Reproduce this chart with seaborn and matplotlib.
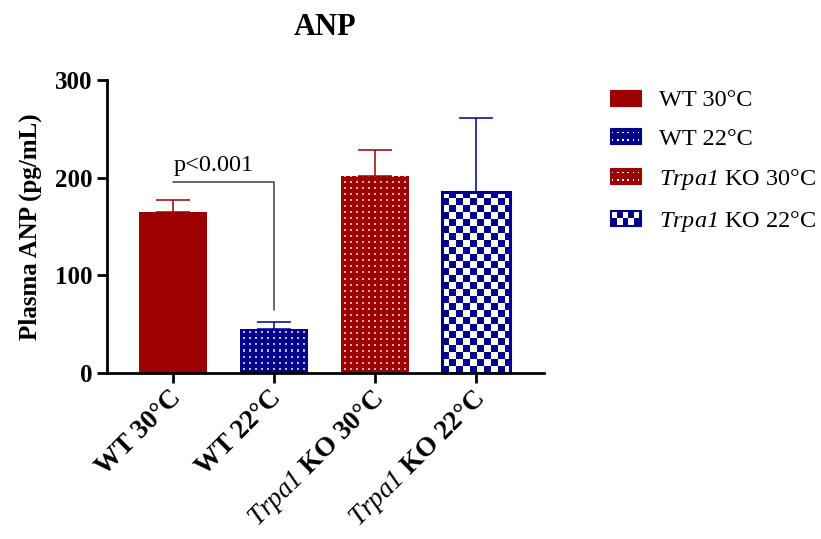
import numpy as np
import pandas as pd
import matplotlib
matplotlib.use('Agg')
import matplotlib.pyplot as plt
import seaborn as sns
from matplotlib.colors import ListedColormap
from matplotlib.legend_handler import HandlerBase
from matplotlib.patches import Patch, Rectangle
from matplotlib.transforms import ScaledTranslation

# Data (mean + upper SEM)
groups = ['WT 30°C', 'WT 22°C', 'Trpa1 KO 30°C', 'Trpa1 KO 22°C']
tick_labels = ['WT 30°C', 'WT 22°C',
               r'$\mathsf{Trpa1}$ KO 30°C', r'$\mathsf{Trpa1}$ KO 22°C']
anp_mean = [165, 44.5, 202, 185]
anp_err = [12, 7.5, 26, 76]
bar_colors = ['#9c0000', '#00008b', '#9c0000', '#00008b']
dot_colors = ['#ffffff', '#b8b8e0', '#e8a8a8', '#ffffff']
bar_fill = ['solid', 'dots', 'fine_dots', 'checker']
p_text = 'p<0.001'
bracket_top = 195
bracket_bottom = 64

sns.set_style('ticks')
plt.rcParams['font.family'] = ['Liberation Serif', 'DejaVu Serif']
plt.rcParams['mathtext.fontset'] = 'custom'
plt.rcParams['mathtext.sf'] = 'Liberation Serif:italic'
plt.rcParams['mathtext.it'] = 'Liberation Serif:italic'
plt.rcParams['mathtext.rm'] = 'Liberation Serif'
plt.rcParams['mathtext.bf'] = 'Liberation Serif:bold'
for key in ('text.color', 'axes.labelcolor', 'xtick.color', 'ytick.color'):
    plt.rcParams[key] = 'black'


def pattern(kind, h, w):
    yy, xx = np.mgrid[0:h, 0:w]
    if kind in ('dots', 'fine_dots'):
        return (((yy + 3) % 6 < 2) & ((xx + 3) % 6 < 2)).astype(float)
    return ((yy // 7 + xx // 7) % 2).astype(float)


class SwatchHandler(HandlerBase):
    def __init__(self, color, kind):
        super().__init__()
        self.color = color
        self.kind = kind

    def create_artists(self, legend, orig_handle, xdescent, ydescent,
                       width, height, fontsize, trans):
        x0, y0 = -xdescent, -ydescent
        arts = [Rectangle((x0, y0), width, height, facecolor=self.color,
                          edgecolor=self.color, lw=0.8, transform=trans)]
        if self.kind in ('dots', 'fine_dots'):
            nx = 6
            for i in range(nx):
                for j in range(2):
                    cx = x0 + (i + 0.5) * width / nx
                    cy = y0 + (j + 0.5) * height / 2
                    arts.append(Rectangle((cx - 0.6, cy - 0.6), 1.2, 1.2,
                                          facecolor='white', lw=0, transform=trans))
        elif self.kind == 'checker':
            nx, ny = 5, 2
            pad = 1.2
            cw = (width - 2 * pad) / nx
            ch = (height - 2 * pad) / ny
            for i in range(nx):
                for j in range(ny):
                    if (i + j) % 2 == 1:
                        arts.append(Rectangle((x0 + pad + i * cw, y0 + pad + j * ch), cw, ch,
                                              facecolor='white', lw=0, transform=trans))
        return arts


df = pd.DataFrame({'group': groups, 'anp': anp_mean})

fig = plt.figure(figsize=(8.21, 5.39), dpi=100)
ax = fig.add_axes([0.130, 0.308, 0.533, 0.544])
sns.barplot(data=df, x='group', y='anp', hue='group', palette=bar_colors,
            saturation=1, width=0.67, errorbar=None, legend=False, ax=ax)

xlim = (-0.66, 3.68)
ylim = (0, 300)
ax.set_xlim(*xlim)
ax.set_ylim(*ylim)

# textures for the patterned bars
for patch, kind, color, dcol in zip(ax.patches, bar_fill, bar_colors, dot_colors):
    patch.set_linewidth(0)
    if kind == 'solid':
        continue
    bx, bw, bh = patch.get_x(), patch.get_width(), patch.get_height()
    px0, py0 = ax.transData.transform((bx, 0))
    px1, py1 = ax.transData.transform((bx + bw, bh))
    w, h = int(round(px1 - px0)), int(round(py1 - py0))
    img = ax.imshow(pattern(kind, h, w), cmap=ListedColormap([color, dcol]),
                    vmin=0, vmax=1, origin='lower', extent=(bx, bx + bw, 0, bh),
                    aspect='auto', interpolation='nearest',
                    zorder=patch.get_zorder() + 0.1)
    img.set_clip_path(patch)
    if kind == 'checker':
        patch.set_facecolor('none')
        patch.set_edgecolor(color)
        patch.set_linewidth(2.2)
        patch.set_zorder(patch.get_zorder() + 0.2)

ax.set_xlim(*xlim)
ax.set_ylim(*ylim)

# upper error bars only
centers = [p.get_x() + p.get_width() / 2 for p in ax.patches]
for cx, m, e, c in zip(centers, anp_mean, anp_err, bar_colors):
    ax.errorbar(cx, m, yerr=[[0], [e]], fmt='none', ecolor=c,
                elinewidth=1.1, capsize=12, capthick=1.1)

# significance bracket
ax.plot([centers[0], centers[1], centers[1]],
        [bracket_top, bracket_top, bracket_bottom], color='#404040', lw=1.1)
ax.text(centers[0], bracket_top + 7, p_text, ha='left', va='bottom', fontsize=17.5)

ax.set_yticks([0, 100, 200, 300])
ax.set_xticks(range(len(groups)))
ax.tick_params(axis='y', width=2, length=7, labelsize=18, color='black', pad=3.6)
ax.tick_params(axis='x', width=2, length=7, color='black', pad=4)
ax.set_xticklabels(tick_labels, rotation=45, ha='right', va='top',
                   rotation_mode='anchor', fontweight='bold', fontsize=19.5)
shift = ScaledTranslation(-5 / 100, 3 / 100, fig.dpi_scale_trans)
for lbl in ax.get_xticklabels():
    lbl.set_transform(lbl.get_transform() + shift)
for lbl in ax.get_yticklabels():
    lbl.set_fontweight('bold')
sns.despine(ax=ax)
for s in ('left', 'bottom'):
    ax.spines[s].set_linewidth(2)
    ax.spines[s].set_color('black')

ax.set_xlabel('')
ax.set_ylabel('Plasma ANP (pg/mL)', fontsize=18, fontweight='bold', labelpad=9)
ax.set_title('ANP', fontsize=22, fontweight='bold', pad=32)

handles = [Patch() for _ in groups]
handler_map = {h: SwatchHandler(c, k) for h, c, k in zip(handles, bar_colors, bar_fill)}
ax.legend(handles, tick_labels, handler_map=handler_map, loc='upper left',
          bbox_to_anchor=(610 / 821, 1 - 90 / 539), bbox_transform=fig.transFigure,
          frameon=False, fontsize=17.5, handlelength=1.28, handleheight=0.62,
          handletextpad=0.74, labelspacing=0.70, borderpad=0, borderaxespad=0)

fig.savefig('out.png', dpi=100)
